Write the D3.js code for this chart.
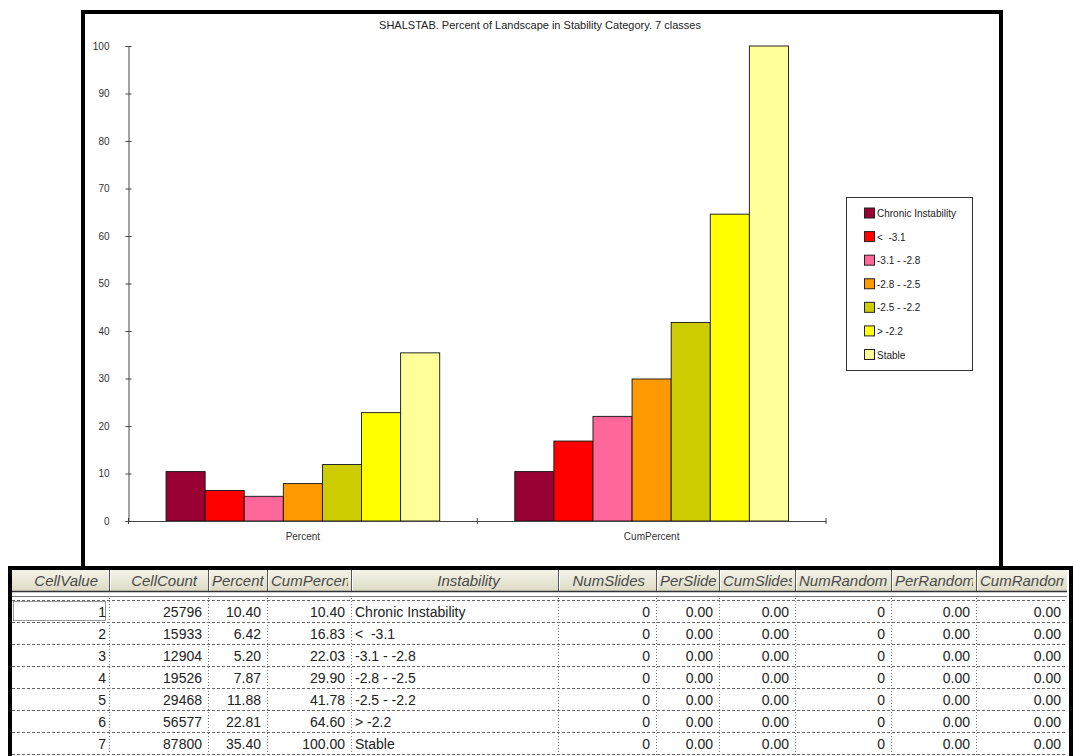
<!DOCTYPE html>
<html><head><meta charset="utf-8">
<script src="https://cdn.jsdelivr.net/npm/d3@7"></script>
<style>
body{margin:0;background:#fff}
svg{display:block;font-family:"Liberation Sans",Arial,sans-serif}
</style>
</head><body>
<svg id="c" width="1073" height="756"></svg>
<script>
// ---------------- data ----------------
const title = "SHALSTAB. Percent of Landscape in Stability Category. 7 classes";
const groups = ["Percent", "CumPercent"];
const classes = ["Chronic Instability", "<  -3.1", "-3.1 - -2.8", "-2.8 - -2.5", "-2.5 - -2.2", "> -2.2", "Stable"];
const classColors = ["#990033", "#ff0000", "#ff6699", "#ff9900", "#cccc00", "#ffff00", "#ffff99"];
const percent = [10.40, 6.42, 5.20, 7.87, 11.88, 22.81, 35.40];
const cumPercent = [10.40, 16.83, 22.03, 29.90, 41.78, 64.60, 100.00];
const yTicks = [0, 10, 20, 30, 40, 50, 60, 70, 80, 90, 100];

const headers = ["CellValue", "CellCount", "Percent", "CumPercent", "Instability", "NumSlides", "PerSlides", "CumSlides", "NumRandom", "PerRandom", "CumRandom"];
const cellValue = [1, 2, 3, 4, 5, 6, 7];
const cellCount = [25796, 15933, 12904, 19526, 29468, 56577, 87800];
const numSlides = [0, 0, 0, 0, 0, 0, 0];
const perSlides = [0, 0, 0, 0, 0, 0, 0];
const cumSlides = [0, 0, 0, 0, 0, 0, 0];
const numRandom = [0, 0, 0, 0, 0, 0, 0];
const perRandom = [0, 0, 0, 0, 0, 0, 0];
const cumRandom = [0, 0, 0, 0, 0, 0, 0];

// ---------------- chart ----------------
const svg = d3.select("#c");
const seriesByGroup = {Percent: percent, CumPercent: cumPercent};

// chart frame
svg.append("rect").attr("x", 83).attr("y", 12).attr("width", 918).attr("height", 556)
  .attr("fill", "#fff").attr("stroke", "#000").attr("stroke-width", 4);

svg.append("text").attr("x", 540).attr("y", 29).attr("text-anchor", "middle")
  .attr("font-size", 11).attr("fill", "#222").text(title);

const plotL = 128.5, plotR = 826, plotT = 46, plotB = 521;
const y = d3.scaleLinear().domain([0, 100]).range([plotB, plotT]);
const x0 = d3.scaleBand().domain(groups).range([plotL, plotR]).padding(0);
const x1 = d3.scaleBand().domain(classes).range([0, x0.bandwidth()]).paddingInner(0).paddingOuter(0.96);

// y axis
const yAxis = svg.append("g").attr("transform", `translate(${plotL},0)`)
  .call(d3.axisLeft(y).tickValues(yTicks).tickSize(3).tickPadding(16).tickFormat(d3.format("d")));
yAxis.select(".domain").attr("stroke", "#444");
yAxis.selectAll(".tick line").attr("x1", -3).attr("x2", 3).attr("stroke", "#444");
yAxis.selectAll(".tick text").attr("font-size", 10).attr("fill", "#333")
  .attr("font-family", "Liberation Sans, Arial, sans-serif");

// bars
groups.forEach(g => {
  svg.append("g").selectAll("rect").data(classes).join("rect")
    .attr("x", (c) => x0(g) + x1(c))
    .attr("y", (c, i) => y(seriesByGroup[g][i]))
    .attr("width", x1.bandwidth())
    .attr("height", (c, i) => y(0) - y(seriesByGroup[g][i]))
    .attr("fill", (c, i) => classColors[i])
    .attr("stroke", "#111").attr("stroke-width", 0.9);
});

// x axis
const xAxis = svg.append("g").attr("transform", `translate(0,${plotB})`)
  .call(d3.axisBottom(x0).tickSize(0).tickPadding(12));
xAxis.select(".domain").attr("stroke", "#444");
xAxis.selectAll(".tick text").attr("font-size", 10).attr("fill", "#333")
  .attr("font-family", "Liberation Sans, Arial, sans-serif");
const xBounds = [x0.range()[0]].concat(groups.map(g => x0(g) + x0.bandwidth()));
xAxis.selectAll(".sep").data(xBounds).join("line").attr("class", "sep")
  .attr("x1", d => d).attr("x2", d => d).attr("y1", -3).attr("y2", 3).attr("stroke", "#444");

// legend
const lg = svg.append("g");
lg.append("rect").attr("x", 846.5).attr("y", 197.5).attr("width", 126).attr("height", 173)
  .attr("fill", "#fff").attr("stroke", "#333").attr("stroke-width", 1);
const lgY = d3.scalePoint().domain(classes).range([213.5, 355]);
classes.forEach((c, i) => {
  lg.append("rect").attr("x", 864.5).attr("y", lgY(c) - 5.5).attr("width", 10).attr("height", 10)
    .attr("fill", classColors[i]).attr("stroke", "#222").attr("stroke-width", 1);
  lg.append("text").attr("x", 877).attr("y", lgY(c) + 3.5).attr("font-size", 10).attr("fill", "#222")
    .attr("xml:space", "preserve").style("white-space", "pre").text(c);
});

// ---------------- table ----------------
const colX = [12, 109, 208, 267, 351, 558, 656, 719, 795, 891, 976, 1067];
const headTop = 570, headBot = 591, rowTop = 600, rowH = 22;
const fmt2 = d3.format(".2f");
const columns = [
  cellValue.map(String),
  cellCount.map(String),
  percent.map(fmt2),
  cumPercent.map(fmt2),
  classes,
  numSlides.map(String),
  perSlides.map(fmt2),
  cumSlides.map(fmt2),
  numRandom.map(String),
  perRandom.map(fmt2),
  cumRandom.map(fmt2)
];
const leftAligned = [false, false, false, false, true, false, false, false, false, false, false];

const defs = svg.append("defs");
const grad = defs.append("linearGradient").attr("id", "hg").attr("x1", 0).attr("x2", 0).attr("y1", 0).attr("y2", 1);
grad.append("stop").attr("offset", "0").attr("stop-color", "#f4f3e8");
grad.append("stop").attr("offset", "1").attr("stop-color", "#dddbc6");

const tb = svg.append("g");
tb.append("rect").attr("x", 12).attr("y", headTop).attr("width", 1055).attr("height", headBot - headTop)
  .attr("fill", "url(#hg)");

headers.forEach((h, i) => {
  const l = colX[i], r = colX[i + 1];
  defs.append("clipPath").attr("id", "hc" + i).append("rect")
    .attr("x", l + 2).attr("y", headTop).attr("width", r - l - 5).attr("height", headBot - headTop);
  const t = tb.append("text").attr("clip-path", `url(#hc${i})`)
    .attr("y", 585.5).attr("font-size", 15).attr("font-style", "italic").attr("fill", "#4a4a4a").text(h);
  const w = t.node().getComputedTextLength();
  if (i === 4) t.attr("x", (l + r) / 2 + 14).attr("text-anchor", "middle");
  else if (w + 14 > r - l) t.attr("x", l + 4);
  else t.attr("x", r - 11).attr("text-anchor", "end");
  if (i > 0) {
    tb.append("line").attr("x1", l + 0.5).attr("x2", l + 0.5).attr("y1", headTop).attr("y2", headBot)
      .attr("stroke", "#555");
    tb.append("line").attr("x1", l + 1.5).attr("x2", l + 1.5).attr("y1", headTop).attr("y2", headBot)
      .attr("stroke", "#fff");
  }
});
tb.append("line").attr("x1", 12).attr("x2", 1067).attr("y1", headBot + 0.5).attr("y2", headBot + 0.5)
  .attr("stroke", "#333").attr("stroke-width", 1.5);
tb.append("line").attr("x1", 12).attr("x2", 1067).attr("y1", 596.5).attr("y2", 596.5)
  .attr("stroke", "#777").attr("stroke-width", 1);

// row dashed lines
d3.range(cellValue.length + 1).forEach(k => {
  tb.append("line").attr("x1", 12).attr("x2", 1067)
    .attr("y1", rowTop + k * rowH + 0.5).attr("y2", rowTop + k * rowH + 0.5)
    .attr("stroke", "#666").attr("stroke-dasharray", "3,2");
});
// column dotted separators
colX.slice(1, -1).forEach(cx => {
  tb.append("line").attr("x1", cx + 0.5).attr("x2", cx + 0.5).attr("y1", 598).attr("y2", 756)
    .attr("stroke", "#777").attr("stroke-dasharray", "1,2");
});
// cell texts
columns.forEach((vals, i) => {
  const l = colX[i], r = colX[i + 1];
  vals.forEach((v, k) => {
    const t = tb.append("text").attr("y", rowTop + k * rowH + 16.5).attr("font-size", 14).attr("fill", "#222")
      .attr("xml:space", "preserve").style("white-space", "pre").text(v);
    if (leftAligned[i]) t.attr("x", l + 4);
    else t.attr("x", r - (i === 0 ? 3 : 6)).attr("text-anchor", "end");
  });
});
// focus rectangle on first cell
tb.append("rect").attr("x", 13.5).attr("y", rowTop + 1.5).attr("width", colX[1] - 17).attr("height", rowH - 3)
  .attr("fill", "none").attr("stroke", "#333").attr("stroke-dasharray", "1,1");

// table frame
tb.append("rect").attr("x", 10).attr("y", 568).attr("width", 1061).attr("height", 194)
  .attr("fill", "none").attr("stroke", "#000").attr("stroke-width", 4);
</script>
</body></html>
